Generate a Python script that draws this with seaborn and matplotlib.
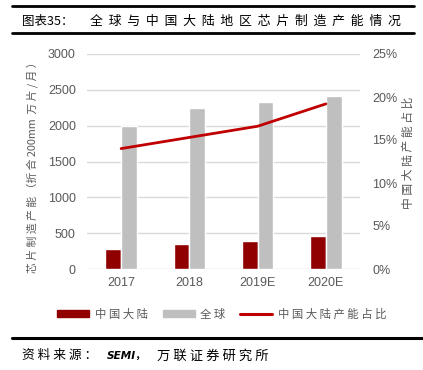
import numpy as np
import pandas as pd
import matplotlib
matplotlib.use("Agg")
import matplotlib.pyplot as plt
import seaborn as sns
from matplotlib.patches import Patch
from matplotlib.lines import Line2D

# Datos
anios = ["2017", "2018", "2019E", "2020E"]
china = [279, 344, 386, 464]          # 万片/月 (折合200mm)
mundo = [1990, 2245, 2325, 2413]
participacion = [14.0, 15.3, 16.6, 19.2]  # %

serie_china = "中国大陆"
serie_mundo = "全球"
serie_linea = "中国大陆产能占比"

df = pd.DataFrame({
    "anio": anios * 2,
    "serie": [serie_china] * len(anios) + [serie_mundo] * len(anios),
    "valor": china + mundo,
})

sns.set_style("white")
plt.rcParams["font.family"] = ["Noto Sans CJK SC", "DejaVu Sans"]

gris_txt = "#595959"
rojo_osc = "#900000"
gris_bar = "#BFBFBF"
rojo = "#C00000"

fig = plt.figure(figsize=(4.23, 3.70), dpi=100)
ax = fig.add_axes([87 / 423, 1 - 269 / 370, 273 / 423, 215 / 370])

sns.barplot(data=df, x="anio", y="valor", hue="serie",
            palette={serie_china: rojo_osc, serie_mundo: gris_bar},
            width=0.46, gap=0, ax=ax, legend=False, saturation=1)
ax.set_xlim(-0.5, len(anios) - 0.5)
ax.set_ylim(0, 3000)
ax.set_yticks(np.arange(0, 3001, 500))
ax.yaxis.grid(True, color="#D9D9D9", linewidth=1)
ax.set_axisbelow(True)
for s in ax.spines.values():
    s.set_visible(False)
ax.set_xlabel("")
ax.set_ylabel("")
ax.tick_params(axis="both", length=0, labelcolor=gris_txt, labelsize=9)
ax.tick_params(axis="y", pad=8)
ax.tick_params(axis="x", pad=6)
for t in ax.get_xticklabels() + ax.get_yticklabels():
    t.set_fontfamily("Liberation Sans")

ax2 = ax.twinx()
sns.lineplot(x=np.arange(len(anios)), y=participacion, ax=ax2,
             color=rojo, linewidth=2.0)
ax2.set_ylim(0, 25)
ax2.set_yticks(np.arange(0, 26, 5))
ax2.set_yticklabels([f"{v}%" for v in range(0, 26, 5)])
for s in ax2.spines.values():
    s.set_visible(False)
ax2.tick_params(axis="y", length=0, labelcolor=gris_txt, labelsize=9, pad=9)
for t in ax2.get_yticklabels():
    t.set_fontfamily("Liberation Sans")

# Etiquetas de ejes
fig.text(32 / 423, 1 - 165 / 370, "芯 片 制 造 产 能 （折 合 200mm  万 片 / 月 ）",
         rotation=90, ha="center", va="center", fontsize=7.8, color=gris_txt)
fig.text(408 / 423, 1 - 153 / 370, "中 国 大 陆 产 能 占 比",
         rotation=90, ha="center", va="center", fontsize=8.5, color=gris_txt)

# Leyenda
handles = [Patch(color=rojo_osc), Patch(color=gris_bar),
           Line2D([], [], color=rojo, linewidth=2.2)]
labels = ["中 国 大 陆", "全 球", "中 国 大 陆 产 能 占 比"]
fig.legend(handles, labels, loc="center", bbox_to_anchor=(222 / 423, 1 - 314 / 370),
           ncol=3, frameon=False, fontsize=8.2, handlelength=2.8, handleheight=0.65,
           handletextpad=0.5, columnspacing=1.3, labelcolor=gris_txt)

# Titulo y lineas
fig.text(22 / 423, 1 - 21 / 370, "图表35：", ha="left", va="center",
         fontsize=9, color="black")
fig.text(90 / 423, 1 - 21 / 370, "全  球  与  中  国  大  陆  地  区  芯  片  制  造  产  能  情  况",
         ha="left", va="center", fontsize=9.3, color="black")
fig.add_artist(Line2D([12 / 423, 414 / 423], [1 - 5.5 / 370] * 2, color="black", linewidth=2))
fig.add_artist(Line2D([12 / 423, 414 / 423], [1 - 33 / 370] * 2, color="black", linewidth=2))
fig.add_artist(Line2D([12 / 423, 1.0], [1 - 337.5 / 370] * 2, color="black", linewidth=2.2))

# Fuente
fig.text(22 / 423, 1 - 356 / 370, "资 料 来 源 ：", ha="left", va="center",
         fontsize=9.2, color="black")
fig.text(107 / 423, 1 - 356 / 370, "SEMI，", ha="left", va="center",
         fontsize=7.6, color="black", family=["DejaVu Sans", "Noto Sans CJK SC"],
         style="italic", weight="bold")
fig.text(157 / 423, 1 - 356 / 370, "万 联 证 券 研 究 所", ha="left", va="center",
         fontsize=9.6, color="black")

fig.savefig("out.png", dpi=100)
